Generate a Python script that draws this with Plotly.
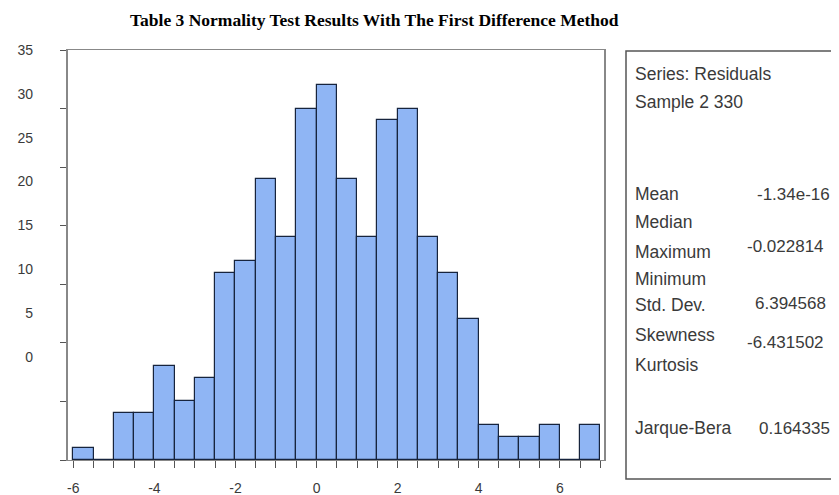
import plotly.graph_objects as go

# ---- data ----
bin_left = [-6.0, -5.5, -5.0, -4.5, -4.0, -3.5, -3.0, -2.5, -2.0, -1.5, -1.0, -0.5,
            0.0, 0.5, 1.0, 1.5, 2.0, 2.5, 3.0, 3.5, 4.0, 4.5, 5.0, 5.5, 6.0, 6.5]
counts = [1, 0, 4, 4, 8, 5, 7, 16, 17, 24, 19, 30,
          32, 24, 19, 29, 30, 19, 16, 12, 3, 2, 2, 3, 0, 3]
bin_width = 0.5
x_tick_vals = [-6 + 0.5 * i for i in range(27)]
x_label_vals = [-6, -4, -2, 0, 2, 4, 6]
y_tick_vals = [0, 5, 10, 15, 20, 25, 30, 35]

stat_labels = ["Mean", "Median", "Maximum", "Minimum", "Std. Dev.", "Skewness", "Kurtosis", "Jarque-Bera"]
stat_values = ["-1.34e-16", "-0.022814", "6.394568", "-6.431502", "0.164335"]
series_name = "Series: Residuals"
sample_text = "Sample 2 330"
title_text = "Table 3 Normality Test Results With The First Difference Method"

# ---- layout geometry (pixels in the 839x495 window; page body has an 8px margin) ----
OFF = 8
W, H = 839 - OFF, 495 - OFF
L, R, T, B = 68, 604, 50, 460          # plot area in window pixels
def px(xp):
    return (xp - L) / (R - L)
def py(yp):
    return (B - yp) / (B - T)

centers = [b + bin_width / 2 for b in bin_left]

fig = go.Figure()
fig.add_trace(go.Bar(
    x=centers, y=counts, width=bin_width,
    marker=dict(color="#8fb5f4", line=dict(color="#17243d", width=1.2)),
    showlegend=False, hoverinfo="x+y"))
fig.add_trace(go.Scatter(x=[0], y=[0], yaxis="y2", mode="markers",
                         marker=dict(opacity=0), showlegend=False, hoverinfo="skip"))

tick_font = dict(family="Liberation Sans, Arial, sans-serif", size=14, color="#3a3a3a")
fig.update_layout(
    width=W, height=H,
    margin=dict(l=L - OFF, r=(W + OFF) - R, t=T - OFF, b=(H + OFF) - B, pad=0, autoexpand=False),
    plot_bgcolor="white", paper_bgcolor="white",
    bargap=0,
    xaxis=dict(range=[-6.13, 7.09], tickvals=x_tick_vals, automargin=False,
               ticktext=[str(int(v)) if v in x_label_vals else "" for v in x_tick_vals],
               ticks="outside", ticklen=7, tickwidth=1.2, tickcolor="#555",
               showline=True, linecolor="#888", linewidth=1.2, mirror=True,
               showgrid=False, zeroline=False, tickfont=tick_font, ticklabelstandoff=8),
    yaxis=dict(range=[0, 35], tickvals=y_tick_vals, showticklabels=False, automargin=False,
               ticks="outside", ticklen=6, tickwidth=1.2, tickcolor="#555",
               showline=True, linecolor="#888", linewidth=1.5, mirror=True,
               showgrid=False, zeroline=False),
    yaxis2=dict(overlaying="y", side="left", range=[-11.79, 35.02], tickvals=y_tick_vals,
                automargin=False,
                ticks="", showline=False, showgrid=False, zeroline=False,
                tickfont=tick_font, ticklabelstandoff=34),
)

# title
fig.add_annotation(text="<b>" + title_text + "</b>", xref="paper", yref="paper",
                   x=px(374), y=py(20), xanchor="center", yanchor="middle", showarrow=False,
                   borderpad=0,
                   font=dict(family="Liberation Serif, Times New Roman, serif", size=17.5, color="black"))

# stats box
fig.add_shape(type="rect", xref="paper", yref="paper",
              x0=px(626), x1=px(845), y0=py(479), y1=py(51),
              line=dict(color="#555", width=1.5), fillcolor="rgba(0,0,0,0)")

stat_font = dict(family="Liberation Sans, Arial, sans-serif", size=17.5, color="#3a3a3a")
def add_text(txt, xp, yp, size=17.5):
    f = dict(stat_font); f["size"] = size
    fig.add_annotation(text=txt, xref="paper", yref="paper", x=px(xp), y=py(yp),
                       xanchor="left", yanchor="middle", showarrow=False, font=f,
                       borderpad=0)

add_text(series_name, 634, 74)
add_text(sample_text, 634, 102)
label_y = [194, 222, 252, 279, 305, 335, 365, 428]
for lab, yy in zip(stat_labels, label_y):
    add_text(lab, 634, yy)
value_pos = [(756, 194), (746, 246), (754, 303), (746, 342), (758, 428)]
for val, (xx, yy) in zip(stat_values, value_pos):
    add_text(val, xx, yy, size=17)

fig.write_html("out.html")
